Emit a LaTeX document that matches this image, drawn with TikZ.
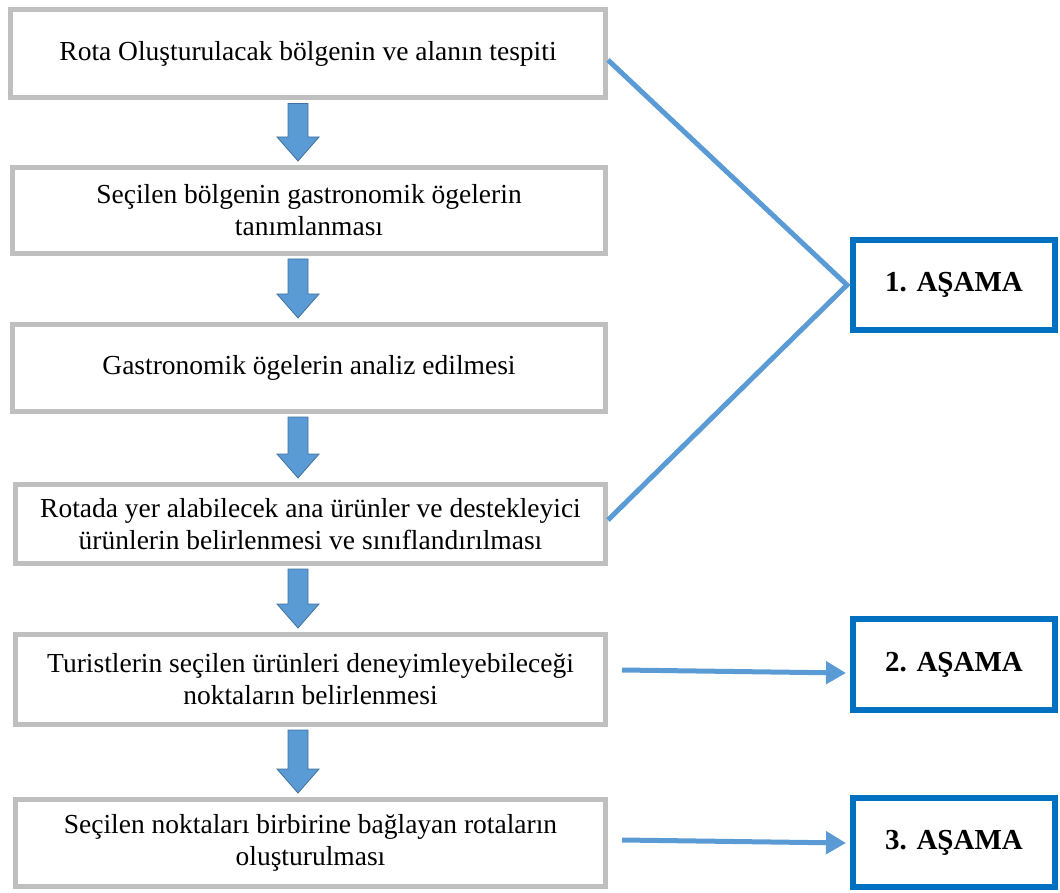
\documentclass[tikz,border=0pt]{standalone}
\usepackage{fontspec}
\setmainfont{Liberation Serif}
\usetikzlibrary{calc,arrows.meta}

\definecolor{boxgray}{HTML}{BFBFBF}
\definecolor{stageblue}{HTML}{0070C0}
\definecolor{linkblue}{HTML}{5B9BD5}
\definecolor{arrowedge}{HTML}{41719C}

\tikzset{
  stepbox/.style={draw=boxgray, line width=5pt, fill=white, align=center,
    font=\fontsize{27.5}{32}\selectfont, inner sep=0pt},
  stagebox/.style={draw=stageblue, line width=6pt, fill=white, align=center,
    font=\fontsize{29}{34}\selectfont\bfseries, inner sep=0pt,
    minimum width=202pt, minimum height=90pt},
  link/.style={draw=linkblue, line width=5pt},
  linkarrow/.style={link, -{Triangle[length=20pt,width=22pt]}},
  blockarrow/.style={draw=arrowedge, fill=linkblue, line width=0.8pt, line join=miter}
}

% downward block arrow between two stacked boxes
\newcommand\flowarrow[2]{%
  \path[blockarrow] let \p1=(#1.south), \p2=(#2.north) in
    (288pt,{\y1-3pt}) -- (308pt,{\y1-3pt}) -- (308pt,{\y2+28pt}) --
    (319pt,{\y2+28pt}) -- (298pt,{\y2+4pt}) -- (277pt,{\y2+28pt}) --
    (288pt,{\y2+28pt}) -- cycle;}

\begin{document}
\begin{tikzpicture}[x=1pt,y=-1pt]
  \useasboundingbox (0,0) rectangle (1060,893);

  % process steps
  \node[stepbox, minimum width=595pt, minimum height=88pt] (b1) at (308,54)
    {Rota Oluşturulacak bölgenin ve alanın tespiti};
  \node[stepbox, minimum width=593pt, minimum height=86pt] (b2) at (309,210.5)
    {Seçilen bölgenin gastronomik ögelerin\\tanımlanması};
  \node[stepbox, minimum width=593pt, minimum height=87pt] (b3) at (309,368)
    {Gastronomik ögelerin analiz edilmesi};
  \node[stepbox, minimum width=590pt, minimum height=79pt] (b4) at (310.5,524)
    {Rotada yer alabilecek ana ürünler ve destekleyici\\ürünlerin belirlenmesi ve sınıflandırılması};
  \node[stepbox, minimum width=590pt, minimum height=90pt] (b5) at (310.5,679.5)
    {Turistlerin seçilen ürünleri deneyimleyebileceği\\noktaların belirlenmesi};
  \node[stepbox, minimum width=590pt, minimum height=87pt] (b6) at (310.5,843)
    {Seçilen noktaları birbirine bağlayan rotaların\\oluşturulması};

  % stages
  \node[stagebox] (s1) at (954,285) {1. AŞAMA};
  \node[stagebox, minimum height=91pt] (s2) at (954,664.5) {2. AŞAMA};
  \node[stagebox, minimum height=89pt] (s3) at (954,842.5) {3. AŞAMA};

  % flow between steps
  \flowarrow{b1}{b2}
  \flowarrow{b2}{b3}
  \flowarrow{b3}{b4}
  \flowarrow{b4}{b5}
  \flowarrow{b5}{b6}

  % stage links
  \coordinate (j1) at ([xshift=-3pt]s1.west);
  \draw[link, line join=miter] ([yshift=-6pt]b1.east) -- (j1) -- ([yshift=4pt]b4.east);

  \coordinate (a2) at (622,670);
  \coordinate (a3) at (622,840);
  \draw[linkarrow] (a2) -- ([xshift=-4pt,yshift=-3pt]s2.west |- a2);
  \draw[linkarrow] (a3) -- ([xshift=-4pt,yshift=-3pt]s3.west |- a3);
\end{tikzpicture}
\end{document}
